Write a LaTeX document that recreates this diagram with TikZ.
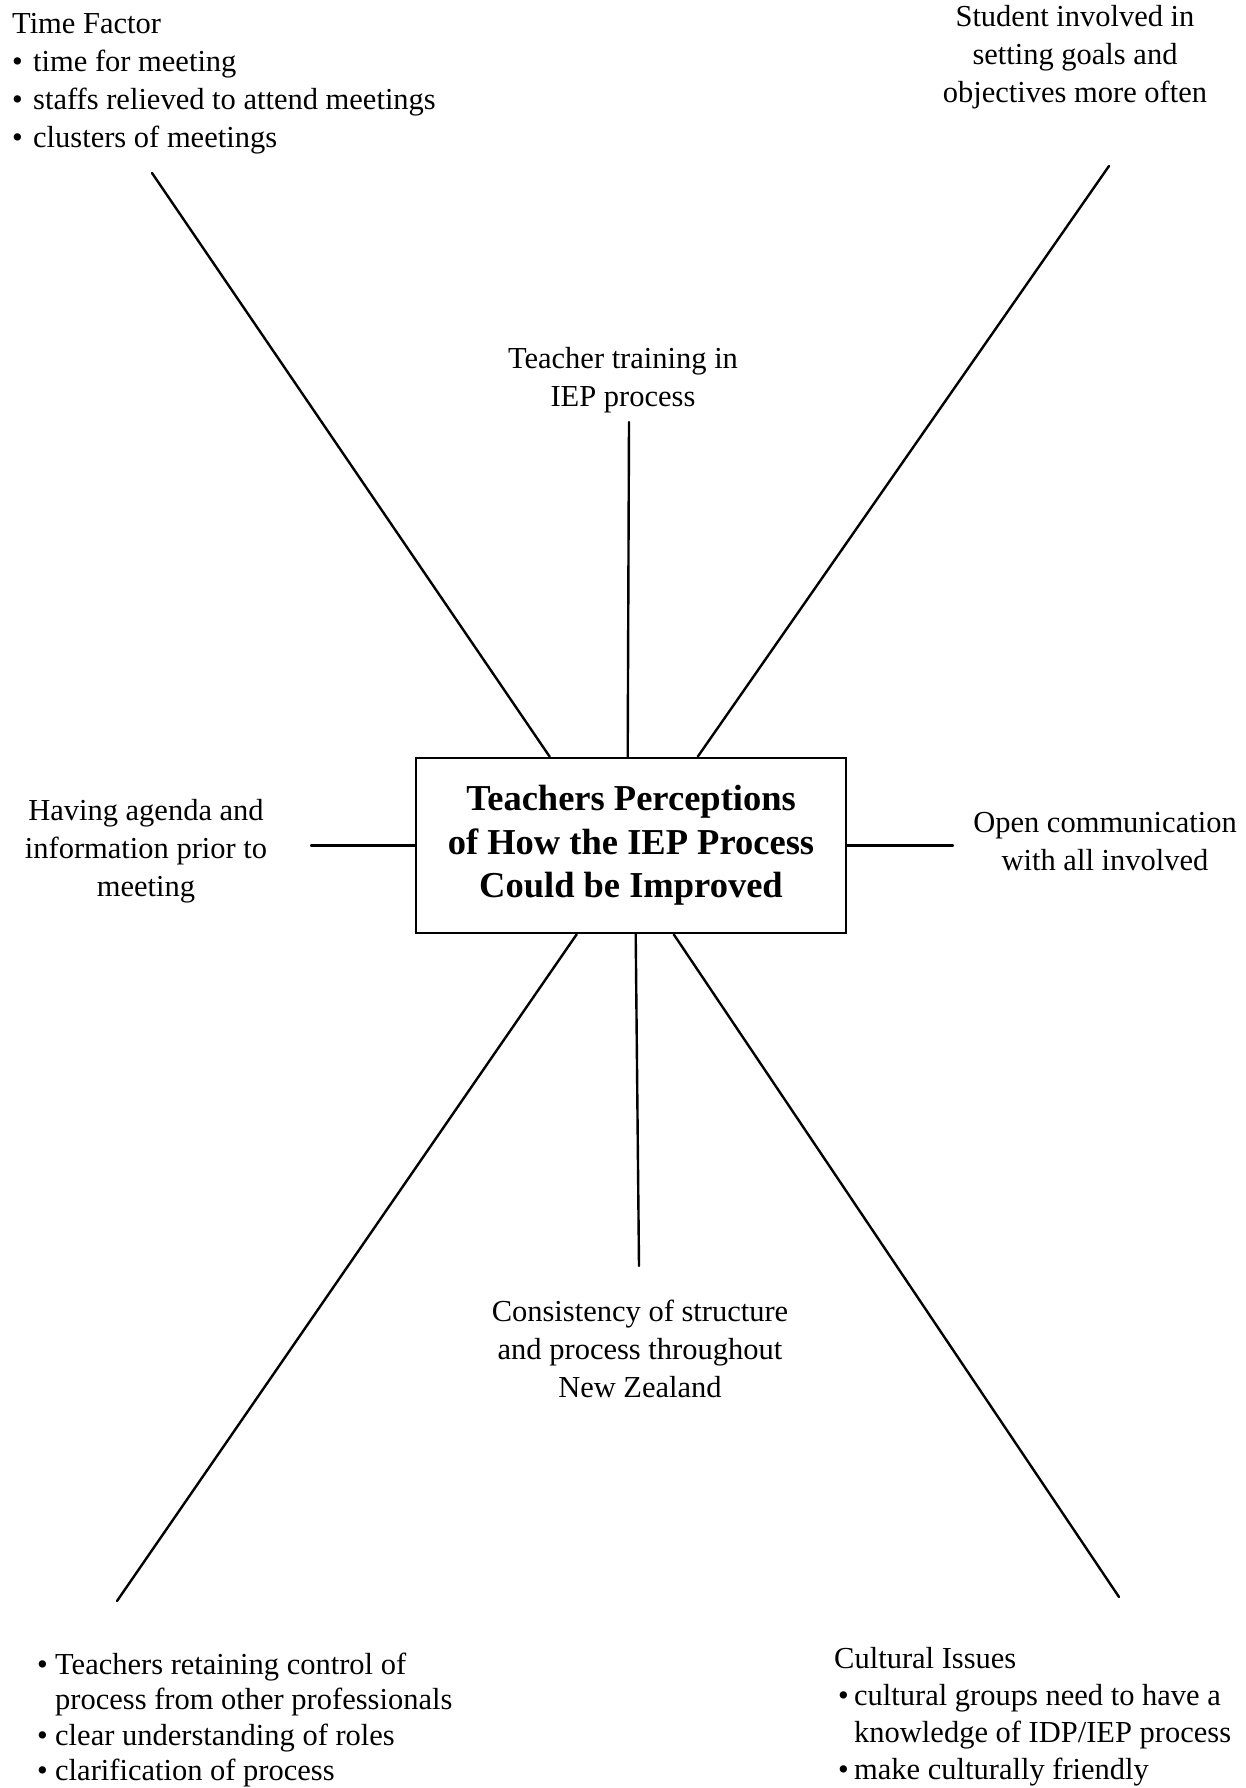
\documentclass[tikz,border=0pt]{standalone}
\usepackage{fontspec}
\setmainfont{Liberation Serif}
\newcommand\mybul[1]{\makebox[#1][l]{•}}
\begin{document}
\begin{tikzpicture}[x=1pt,y=-1pt,
  txt/.style={inner sep=0pt, font=\fontsize{30.5}{38}\selectfont},
  link/.style={line width=2.4pt, line cap=round},
  hub/.style={draw, line width=2.6pt, minimum width=430pt, minimum height=175pt,
    inner sep=0pt, align=center, font=\fontsize{36.5}{43.5}\selectfont\bfseries}]
\useasboundingbox (0,0) rectangle (1245,1788);

% central box
\node[hub] (hub) at (631,845.5) {Teachers Perceptions\\of How the IEP Process\\Could be Improved};

% texts
\node[txt, anchor=base west] (time) at (12,33)
 {\begin{tabular}[t]{@{}l@{}}Time Factor\\
  \mybul{21pt}time for meeting\\
  \mybul{21pt}staffs relieved to attend meetings\\
  \mybul{21pt}clusters of meetings\end{tabular}};

\node[txt, anchor=base] (student) at (1075,26)
 {\begin{tabular}[t]{@{}c@{}}Student involved in\\setting goals and\\objectives more often\end{tabular}};

\node[txt, anchor=base] (training) at (623,368)
 {\begin{tabular}[t]{@{}c@{}}Teacher training in\\IEP process\end{tabular}};

\node[txt, anchor=base] (agenda) at (146,820)
 {\begin{tabular}[t]{@{}c@{}}Having agenda and\\information prior to\\meeting\end{tabular}};

\node[txt, anchor=base] (open) at (1105,832)
 {\begin{tabular}[t]{@{}c@{}}Open communication\\with all involved\end{tabular}};

\node[txt, anchor=base] (consist) at (640,1321)
 {\begin{tabular}[t]{@{}c@{}}Consistency of structure\\and process throughout\\New Zealand\end{tabular}};

\node[txt, anchor=base west, font=\fontsize{30.5}{35.5}\selectfont] (control) at (37,1674)
 {\begin{tabular}[t]{@{}l@{}}\mybul{18pt}Teachers retaining control of\\
  \hspace{18pt}process from other professionals\\
  \mybul{18pt}clear understanding of roles\\
  \mybul{18pt}clarification of process\end{tabular}};

\node[txt, anchor=base west, font=\fontsize{30.5}{37}\selectfont] (cultural) at (834,1668)
 {\begin{tabular}[t]{@{}l@{}}Cultural Issues\\
  \hspace{4pt}\mybul{16pt}cultural groups need to have a\\
  \hspace{20pt}knowledge of IDP/IEP process\\
  \hspace{4pt}\mybul{16pt}make culturally friendly\end{tabular}};

% free ends of connectors
\coordinate (eTL) at (152,173);
\coordinate (eT) at (629,422);
\coordinate (eTR) at (1109,166);
\coordinate (eL) at (311,845.5);
\coordinate (eR) at (953,845.5);
\coordinate (eBL) at (117,1601);
\coordinate (eB) at (639,1266);
\coordinate (eBR) at (1119,1597);

% connectors
\draw[link] (eTL) -- ([xshift=135pt]hub.north west);
\draw[link] (eT) -- ([xshift=213pt]hub.north west);
\draw[link] (eTR) -- ([xshift=283pt]hub.north west);
\draw[link] (eL) -- (hub.west);
\draw[link] (hub.east) -- (eR);
\draw[link] ([xshift=162pt]hub.south west) -- (eBL);
\draw[link] ([xshift=221pt]hub.south west) -- (eB);
\draw[link] ([xshift=259pt]hub.south west) -- (eBR);
\end{tikzpicture}
\end{document}
